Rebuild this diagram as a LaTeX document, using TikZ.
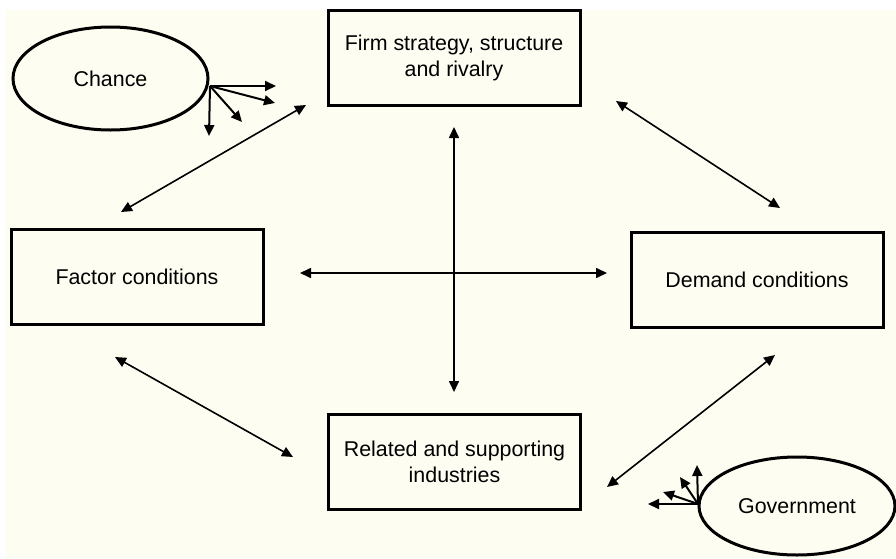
\documentclass[tikz,border=0pt]{standalone}
\usepackage{fontspec}
\setmainfont{Liberation Sans}
\usetikzlibrary{shapes.geometric,arrows.meta}
\definecolor{cream}{RGB}{253,253,242}
\tikzset{>={Triangle[length=5.5pt,width=5pt]}}

\begin{document}
\begin{tikzpicture}[x=0.5pt, y=-0.5pt,
    box/.style={draw, line width=1.5pt, minimum width=126pt, minimum height=47.5pt, inner sep=0pt, align=center, font=\fontsize{10.7}{13}\selectfont},
    blob/.style={draw, ellipse, line width=1.5pt, inner sep=0pt, font=\fontsize{10.7}{13}\selectfont},
    link/.style={<->, line width=0.8pt},
    ray/.style={->, line width=1pt}]
    \useasboundingbox(0, 0)rectangle(896, 558);
    \fill[cream](6, 10)rectangle(896, 558);
    % the four boxes of the diamond
    \node[box](firm) at(454, 57.5){Firm strategy, structure\\and rivalry};
    \node[box](factor) at(137, 276.5){Factor conditions};
    \node[box](demand) at(757, 279.5){Demand conditions};
    \node[box](related) at(454.5, 462){Related and supporting\\industries};
    % outside influences
    \node[blob, minimum width=97.5pt, minimum height=51.5pt](chance) at(110.5, 78.5){Chance};
    \node[blob, minimum width=98pt, minimum height=49pt](gov) at(797, 506){Government};
    % ends of the links
    \coordinate(fsA) at(306, 105);
    \coordinate(fcA) at(121, 212);
    \coordinate(fsB) at(616, 101);
    \coordinate(dcA) at(780, 208);
    \coordinate(fcB) at(115, 357);
    \coordinate(rsA) at(293, 457);
    \coordinate(dcB) at(775, 355);
    \coordinate(rsB) at(607, 487);
    \coordinate(midN) at(454, 127);
    \coordinate(midS) at(454, 392);
    \coordinate(midW) at(300, 273);
    \coordinate(midE) at(607, 273);
    \draw[link](fsA)--(fcA);
    \draw[link](fsB)--(dcA);
    \draw[link](fcB)--(rsA);
    \draw[link](dcB)--(rsB);
    \draw[link](midN)--(midS);
    \draw[link](midW)--(midE);
    % chance rays
    \coordinate(ch0) at(210, 86);
    \coordinate(ch1) at(276, 86);
    \coordinate(ch2) at(275, 103);
    \coordinate(ch3) at(242, 122);
    \coordinate(ch4) at(209, 136);
    \foreach \t in {ch1, ch2, ch3, ch4}
        \draw[ray](ch0)--(\t);
    % government rays
    \coordinate(gv0) at(698, 504);
    \coordinate(gv1) at(697, 465);
    \coordinate(gv2) at(680, 477);
    \coordinate(gv3) at(663, 492);
    \coordinate(gv4) at(648, 504);
    \foreach \t in {gv1, gv2, gv3, gv4}
        \draw[ray](gv0)--(\t);
\end{tikzpicture}
\end{document}
